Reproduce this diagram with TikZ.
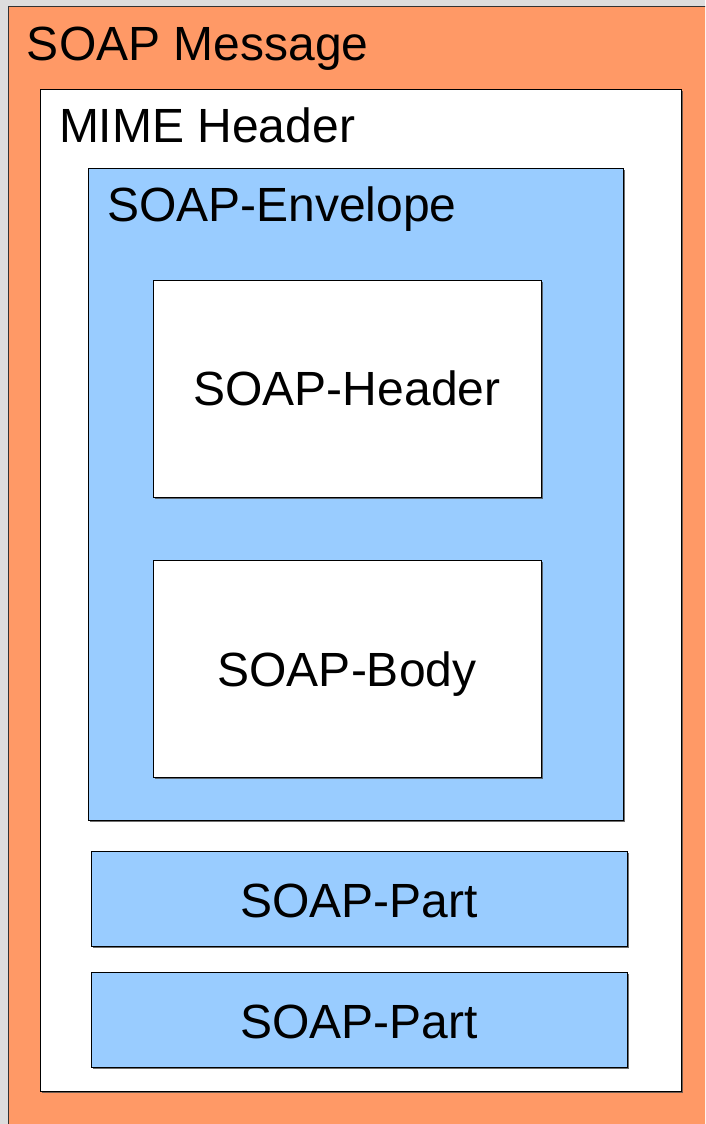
\documentclass[tikz,border=0pt]{standalone}
\usepackage{fontspec}
\setmainfont{Liberation Sans}
\usetikzlibrary{shadows}
\definecolor{bggray}{HTML}{DDDDDD}
\definecolor{soaporange}{HTML}{FF9966}
\definecolor{soapblue}{HTML}{99CCFF}
\definecolor{edgegray}{HTML}{333333}
\tikzset{
  box/.style={rectangle, draw=black, line width=1pt, inner sep=0pt, outer sep=0pt,
    drop shadow={shadow xshift=1.5pt, shadow yshift=-1.5pt, fill=black!70, opacity=0.8}},
  whitebox/.style={box, fill=white},
  bluebox/.style={box, fill=soapblue},
  lbl/.style={inner sep=0pt, outer sep=0pt, font=\fontsize{48}{52}\selectfont, anchor=base west},
  clbl/.style={inner sep=0pt, outer sep=0pt, font=\fontsize{48}{52}\selectfont, anchor=base}
}
\begin{document}
\begin{tikzpicture}[x=1pt,y=-1pt]
\useasboundingbox (0,0) rectangle (705,1124);
\clip (0,0) rectangle (705,1124);
\fill[bggray] (0,0) rectangle (705,1124);
% outer message frame
\node[rectangle, draw=edgegray, line width=1pt, fill=soaporange, inner sep=0pt, anchor=north west,
  minimum width=720pt, minimum height=1140pt] (msg) at (8,6) {};
\node[lbl] (msglbl) at (27,60) {SOAP Message};
% MIME header
\node[whitebox, anchor=north west, minimum width=641pt, minimum height=1002pt] (mime) at (40,89) {};
\node[lbl] (mimelbl) at (59,142) {MIME Header};
% envelope
\node[bluebox, anchor=north west, minimum width=535pt, minimum height=652pt] (env) at (88,168) {};
\node[lbl] (envlbl) at (107,221) {SOAP-Envelope};
% header / body
\node[whitebox, anchor=north west, minimum width=388pt, minimum height=217pt] (hdr) at (153,280) {};
\node[clbl] (hdrlbl) at (347,405) {SOAP-Header};
\node[whitebox, anchor=north west, minimum width=388pt, minimum height=217pt] (body) at (153,560) {};
\node[clbl] (bodylbl) at (347,686) {SOAP-Body};
% parts
\node[bluebox, anchor=north west, minimum width=536pt, minimum height=95pt] (part1) at (91,851) {};
\node[clbl] (part1lbl) at (359,917) {SOAP-Part};
\node[bluebox, anchor=north west, minimum width=536pt, minimum height=95pt] (part2) at (91,972) {};
\node[clbl] (part2lbl) at (359,1038) {SOAP-Part};
\end{tikzpicture}
\end{document}
